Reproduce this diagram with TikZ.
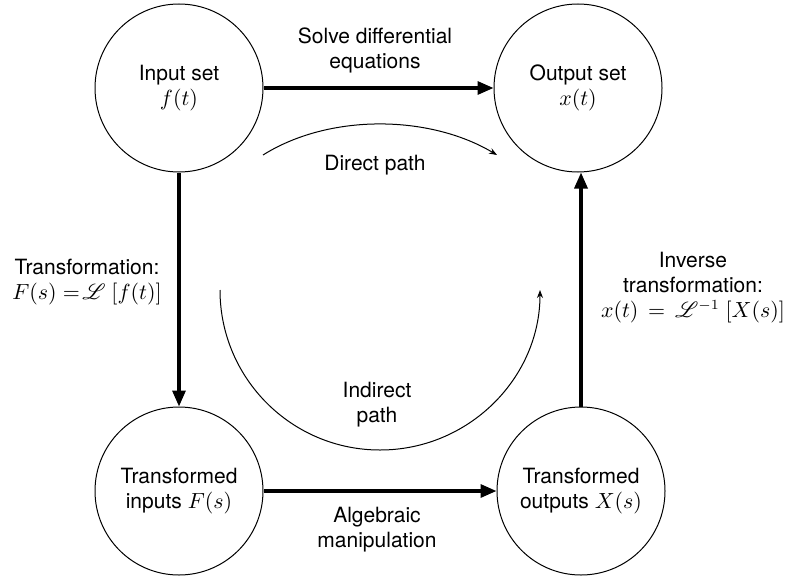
\documentclass[tikz,border=0pt]{standalone}
\usepackage{fontspec}
\setmainfont{TeX Gyre Heros}
\usepackage{amssymb}
\usepackage{mathrsfs}
\usetikzlibrary{arrows.meta,positioning}

\tikzset{
  setnode/.style={circle, draw, line width=.5pt, minimum size=84pt, inner sep=0pt, align=center},
  mainarrow/.style={line width=1.6pt, -{Triangle[length=8pt,width=6.5pt]}},
  patharrow/.style={line width=.5pt, -{Stealth[length=4pt,width=3pt]}},
  lbl/.style={align=center}
}

\begin{document}
\begin{tikzpicture}[x=50pt,y=50pt,font=\fontsize{10.5}{12.5}\selectfont]
\useasboundingbox (0,0) rectangle (7.86,5.80);

% the four sets
\node[setnode] (in) at (1.79,4.92) {Input set\\$f(t)$};
\node[setnode] (out) at (5.78,4.92) {Output set\\$x(t)$};
\node[setnode] (tin) at (1.79,0.89) {Transformed\\inputs $F(s)$};
\node[setnode] (tout) at (5.81,0.89) {Transformed\\outputs $X(s)$};

% main arrows
\draw[mainarrow] (in) -- (out);
\draw[mainarrow] (in) -- (tin);
\draw[mainarrow] (tin) -- (tout);
\draw[mainarrow] (tout.north) -- (tout.north |- out.south);

\node[lbl] (solve) at (3.75,5.30) {Solve differential\\equations};
\node[lbl] (alg) at (3.77,0.50) {Algebraic\\manipulation};
\node[lbl] (trans) at (0.87,2.98) {Transformation:\\$F(s) =\!\mathscr{L}\ [f(t)]$};
\node[lbl] (inv) at (6.93,2.92) {Inverse\\transformation:\\$x(t)\,=\,\mathscr{L}^{-1}\ [X(s)]$};

% direct and indirect paths
\coordinate (da) at (2.63,4.25);
\coordinate (db) at (4.97,4.25);
\draw[patharrow] (da) .. controls (3.3,4.67) and (4.3,4.65) .. (db);
\node[lbl] (direct) at (3.75,4.15) {Direct path};

\coordinate (ia) at (2.20,2.90);
\draw[patharrow] (ia) arc[start angle=180, end angle=360, radius=1.6];
\node[lbl] (indirect) at (3.77,1.75) {Indirect\\path};
\end{tikzpicture}
\end{document}
